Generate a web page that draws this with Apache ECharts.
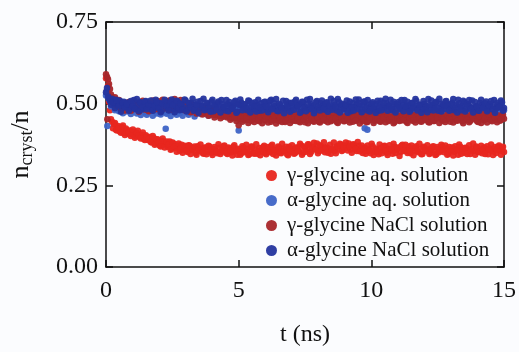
<!DOCTYPE html>
<html>
<head>
<meta charset="utf-8">
<script src="https://cdn.jsdelivr.net/npm/echarts@6/dist/echarts.min.js"></script>
<style>
html,body{margin:0;padding:0;background:#fbfcfe;}
#c{width:519px;height:352px;}
</style>
</head>
<body>
<div id="c"></div>
<script>
// time step of the sampled points (ns); "B" arrays sit half a step later
const dt = 0.075;
const xTicks = [0, 5, 10, 15];
const yTicks = ['0.00', '0.25', '0.50', '0.75'];
const seriesNames = ['γ-glycine aq. solution', 'α-glycine aq. solution', 'γ-glycine NaCl solution', 'α-glycine NaCl solution'];

// values x1000 (n_cryst/n)
const gammaAq = [
578,555,480,445,438,420,432,415,428,410,
424,408,418,406,414,400,417,398,405,392,
403,389,398,381,395,378,390,372,386,375,
380,368,384,362,377,365,372,356,374,360,
368,352,371,358,364,349,370,355,362,347,
366,353,369,350,361,356,348,365,352,370,
357,346,363,351,368,355,344,360,349,366,
354,362,345,369,350,358,347,364,353,367,
349,361,355,370,346,359,352,366,348,363,
357,345,368,352,361,349,365,355,372,350,
364,358,375,352,368,361,378,355,370,364,
351,366,359,347,363,356,369,362,375,358,
372,365,378,360,374,367,355,371,362,349,
366,355,361,348,370,353,359,345,364,357,
371,350,362,356,347,368,358,366,352,374,
360,355,369,348,363,357,370,351,361,346,
365,354,360,349,367,358,345,362,356,369,
351,363,347,358,366,353,361,344,368,357,
350,364,359,346,362,355,369,352,360,348,
366,357,345,363,354,361,349,367,356,362,352];
const gammaAqB = [
540,505,452,425,441,418,426,411,433,404,
419,412,401,421,396,410,403,393,412,389,
399,392,383,401,374,391,381,369,393,366,
384,376,359,381,368,353,378,362,350,371,
356,373,346,362,369,344,360,375,350,365,
345,371,359,343,367,352,376,346,360,372,
349,366,357,341,373,355,362,344,370,351,
374,343,358,368,347,376,355,342,362,371,
345,367,351,374,358,341,369,350,377,356,
368,342,360,373,347,366,354,377,344,369,
353,376,346,363,380,359,348,373,357,382,
366,350,374,359,381,348,370,377,355,368,
381,357,369,350,376,361,383,354,372,358,
347,372,356,377,343,363,352,375,348,370,
356,343,373,361,377,349,364,340,371,355,
374,349,358,372,342,366,355,377,345,368,
357,373,346,361,370,343,367,351,374,359,
372,344,367,354,341,370,358,375,347,363,
365,346,373,357,378,344,366,352,371,359,
346,370,361,375,343,367,358,372,344,368];
const alphaAq = [
525,532,510,498,505,492,500,488,496,483,
502,487,494,479,499,485,491,476,497,484,
489,474,495,481,500,478,492,470,488,482,
496,473,486,491,477,499,483,470,494,480,
487,472,497,479,490,468,485,493,476,488,
471,495,482,467,490,478,498,474,486,469,
492,480,473,496,484,470,489,477,494,465,
483,491,472,487,469,495,478,485,466,490,
475,497,481,468,488,473,493,479,486,464,
490,476,471,494,482,467,489,475,498,480,
469,487,474,492,478,466,491,483,472,495,
477,488,465,484,493,470,486,479,496,468,
482,474,491,467,489,476,497,471,485,480,
466,492,478,487,470,495,481,473,490,464,
486,479,494,469,483,475,491,467,488,477,
472,496,481,468,489,476,493,470,484,478,
491,465,487,480,473,494,469,482,477,490,
468,485,496,474,481,466,492,478,487,471,
483,494,470,488,476,467,491,480,473,495,
478,469,486,492,474,483,466,489,477,494,480];
const alphaAqB = [
540,515,491,510,480,503,477,497,471,493,
476,497,468,490,481,470,494,465,487,474,
466,491,479,463,486,470,495,467,482,473,
469,484,462,489,474,466,491,478,463,485,
479,466,488,472,461,493,476,468,484,470,
490,463,477,486,466,481,469,492,464,476,
467,486,474,462,490,471,480,465,487,473,
461,478,489,466,482,470,463,491,475,467,
488,464,476,485,462,479,471,490,468,483,
466,487,474,461,492,472,483,464,479,469,
485,463,478,490,467,481,470,462,488,474,
468,491,475,463,484,472,489,466,480,471,
493,465,477,486,462,480,469,491,474,464,
481,470,489,466,478,462,487,473,468,485,
463,490,472,480,467,486,464,478,492,470,
484,466,479,463,488,471,465,489,476,468,
477,485,463,490,468,481,472,464,487,474,
490,466,475,483,462,488,470,479,467,485,
469,477,489,464,481,472,486,463,478,490,
474,488,465,479,471,467,490,476,463,482];
const gammaNaCl = [
590,575,545,520,512,498,506,492,503,488,
500,486,497,483,505,490,494,481,499,487,
493,480,502,488,496,484,508,490,498,485,
503,492,510,495,505,489,507,497,501,486,
498,484,495,481,492,478,489,476,486,472,
484,470,481,468,478,465,476,462,474,460,
472,458,470,456,468,455,466,453,464,451,
462,450,466,448,460,452,467,446,458,463,
449,461,454,445,464,451,457,447,462,453,
444,459,450,465,448,455,461,446,452,458,
443,463,449,456,447,460,451,445,466,454,
448,457,462,446,453,459,444,465,450,456,
447,461,452,458,445,463,449,455,460,446,
454,443,462,451,457,448,464,450,445,459,
452,466,447,455,461,444,458,450,463,449,
456,445,460,453,448,465,451,457,446,462,
450,458,444,463,452,447,459,455,466,448,
457,451,462,445,454,460,449,464,453,446,
461,450,456,447,463,452,458,444,460,455,
449,465,453,458,446,461,451,457,448,463,454];
const gammaNaClB = [
582,560,528,505,520,493,511,485,497,479,
492,505,478,496,486,502,475,491,509,482,
504,477,493,510,483,500,495,478,512,489,
487,508,481,499,514,483,496,511,490,480,
489,501,474,496,483,470,493,480,467,490,
477,463,486,474,458,482,469,455,478,466,
462,475,451,469,460,447,473,458,445,470,
455,441,468,457,444,471,449,462,440,465,
458,442,469,451,463,439,467,455,444,472,
448,466,441,460,470,447,456,443,468,451,
462,440,471,454,445,467,458,442,464,451,
469,443,460,449,472,455,441,466,458,446,
463,451,442,470,457,448,466,439,461,452,
468,445,458,471,441,463,454,446,469,457,
443,466,451,460,440,472,455,447,464,450,
468,441,457,464,449,442,470,456,445,467,
453,469,442,460,447,471,456,441,465,452,
444,466,455,470,442,461,448,467,457,440,
468,452,443,466,457,471,446,462,441,469,
455,442,467,449,470,458,443,464,451,466];
const alphaNaCl = [
535,522,508,515,500,512,497,509,494,506,
490,503,486,499,511,484,497,505,482,494,
508,487,500,481,496,512,489,502,479,495,
504,485,498,513,483,493,507,480,499,488,
510,482,495,503,478,497,506,486,492,515,
481,500,489,507,477,494,502,485,511,490,
479,498,505,484,493,509,476,496,503,487,
499,480,508,491,483,504,495,478,501,489,
506,482,497,512,486,493,478,500,490,509,
484,496,503,479,492,507,488,498,476,505,
490,512,483,499,494,478,508,487,501,495,
481,504,492,515,486,497,479,506,490,500,
485,510,493,477,502,489,498,513,482,495,
507,480,497,490,504,484,499,478,509,492,
486,501,495,512,480,498,491,505,483,496,
511,487,494,479,503,490,508,485,497,482,
500,493,514,481,496,489,506,478,499,491,
484,508,495,487,503,480,497,512,489,494,
505,483,498,491,510,486,493,479,502,496,
488,507,482,499,493,511,485,497,490,504,487];
const alphaNaClB = [
548,516,497,504,486,510,492,475,503,488,
499,478,508,492,484,514,477,501,489,506,
483,497,510,478,493,505,486,474,500,512,
491,479,505,496,474,509,487,500,481,513,
476,502,489,515,483,497,472,508,494,480,
503,486,475,512,495,481,507,473,498,489,
511,477,494,486,504,472,499,513,480,496,
485,510,473,502,491,476,512,487,479,505,
492,474,509,483,501,514,477,496,486,471,
508,489,475,503,481,512,494,472,506,487,
477,499,514,484,471,505,490,479,510,485,
502,475,496,481,508,489,514,473,497,483,
496,472,507,488,479,513,484,501,474,506,
487,511,476,500,485,472,509,491,480,503,
515,478,493,484,506,473,499,488,511,477,
492,506,475,501,486,514,479,497,472,508,
483,474,496,510,479,503,487,515,476,498,
507,492,478,499,514,486,473,501,480,509,
476,499,511,484,473,505,490,478,512,487,
501,477,494,508,482,472,503,489,510,478];

// isolated points
const alphaAqOutT = [0.05, 2.25, 5.0, 9.75, 9.85];
const alphaAqOutY = [0.432, 0.423, 0.418, 0.425, 0.420];
const gammaNaClOutT = [0.05, 5.0];
const gammaNaClOutY = [0.452, 0.434];

const colors = ['#e8261f', '#3d63c6', '#a8262a', '#24349e'];

function build(a, b, outT, outY) {
  const d = a.map((v, i) => [+(i * dt).toFixed(4), v / 1000]);
  b.forEach((v, i) => d.push([+((i + 0.5) * dt).toFixed(4), v / 1000]));
  if (outT) outT.forEach((t, i) => d.push([t, outY[i]]));
  return d;
}
const dataSets = [
  build(gammaAq, gammaAqB),
  build(alphaAq, alphaAqB, alphaAqOutT, alphaAqOutY),
  build(gammaNaCl, gammaNaClB, gammaNaClOutT, gammaNaClOutY),
  build(alphaNaCl, alphaNaClB)
];

const serif = 'Liberation Serif';
const chart = echarts.init(document.getElementById('c'), null, {renderer: 'canvas'});
const axisLine = {show: true, onZero: false, lineStyle: {color: '#111', width: 1.5}};
const tick = {show: true, inside: true, length: 7, lineStyle: {color: '#111', width: 1.5}};

chart.setOption({
  backgroundColor: '#fbfcfe',
  animation: false,
  grid: {left: 100, right: 11, top: 22, bottom: 78},
  legend: {
    orient: 'vertical', left: 261, top: 160, itemWidth: 11, itemHeight: 11, itemGap: 4,
    icon: 'circle',
    textStyle: {fontFamily: serif, fontSize: 21, color: '#111', lineHeight: 21, padding: [0, 0, 0, 5]},
    data: seriesNames
  },
  xAxis: [{
    type: 'value', min: 0, max: 15, interval: 5, position: 'bottom',
    axisLine, axisTick: tick, splitLine: {show: false},
    axisLabel: {fontFamily: serif, fontSize: 24, color: '#111', margin: 12,
      formatter: v => xTicks.includes(v) ? String(v) : ''},
    name: 't (ns)', nameLocation: 'middle', nameGap: 56,
    nameTextStyle: {fontFamily: serif, fontSize: 24, color: '#111'}
  }, {
    type: 'value', min: 0, max: 15, interval: 5, position: 'top',
    axisLine, axisTick: tick, splitLine: {show: false}, axisLabel: {show: false}
  }],
  yAxis: [{
    type: 'value', min: 0, max: 0.75, interval: 0.25, position: 'left',
    axisLine, axisTick: tick, splitLine: {show: false},
    axisLabel: {fontFamily: serif, fontSize: 24, color: '#111', margin: 8,
      formatter: v => yTicks[Math.round(v / 0.25)]},
    name: '{n|n}{s|cryst}{n|/n}', nameLocation: 'middle', nameGap: 70,
    nameTextStyle: {
      fontFamily: serif, color: '#111',
      rich: {
        n: {fontFamily: serif, fontSize: 26, color: '#111', lineHeight: 30, verticalAlign: 'middle'},
        s: {fontFamily: serif, fontSize: 18, color: '#111', lineHeight: 30, verticalAlign: 'bottom', padding: [10, 0, 0, 0]}
      }
    }
  }, {
    type: 'value', min: 0, max: 0.75, interval: 0.25, position: 'right',
    axisLine, axisTick: tick, splitLine: {show: false}, axisLabel: {show: false}
  }],
  series: dataSets.map((d, i) => ({
    name: seriesNames[i], type: 'scatter', data: d, symbol: 'circle', symbolSize: 6.5,
    itemStyle: {color: colors[i], opacity: 0.95}, xAxisIndex: 0, yAxisIndex: 0, z: 2 + i
  }))
});
</script>
</body>
</html>
